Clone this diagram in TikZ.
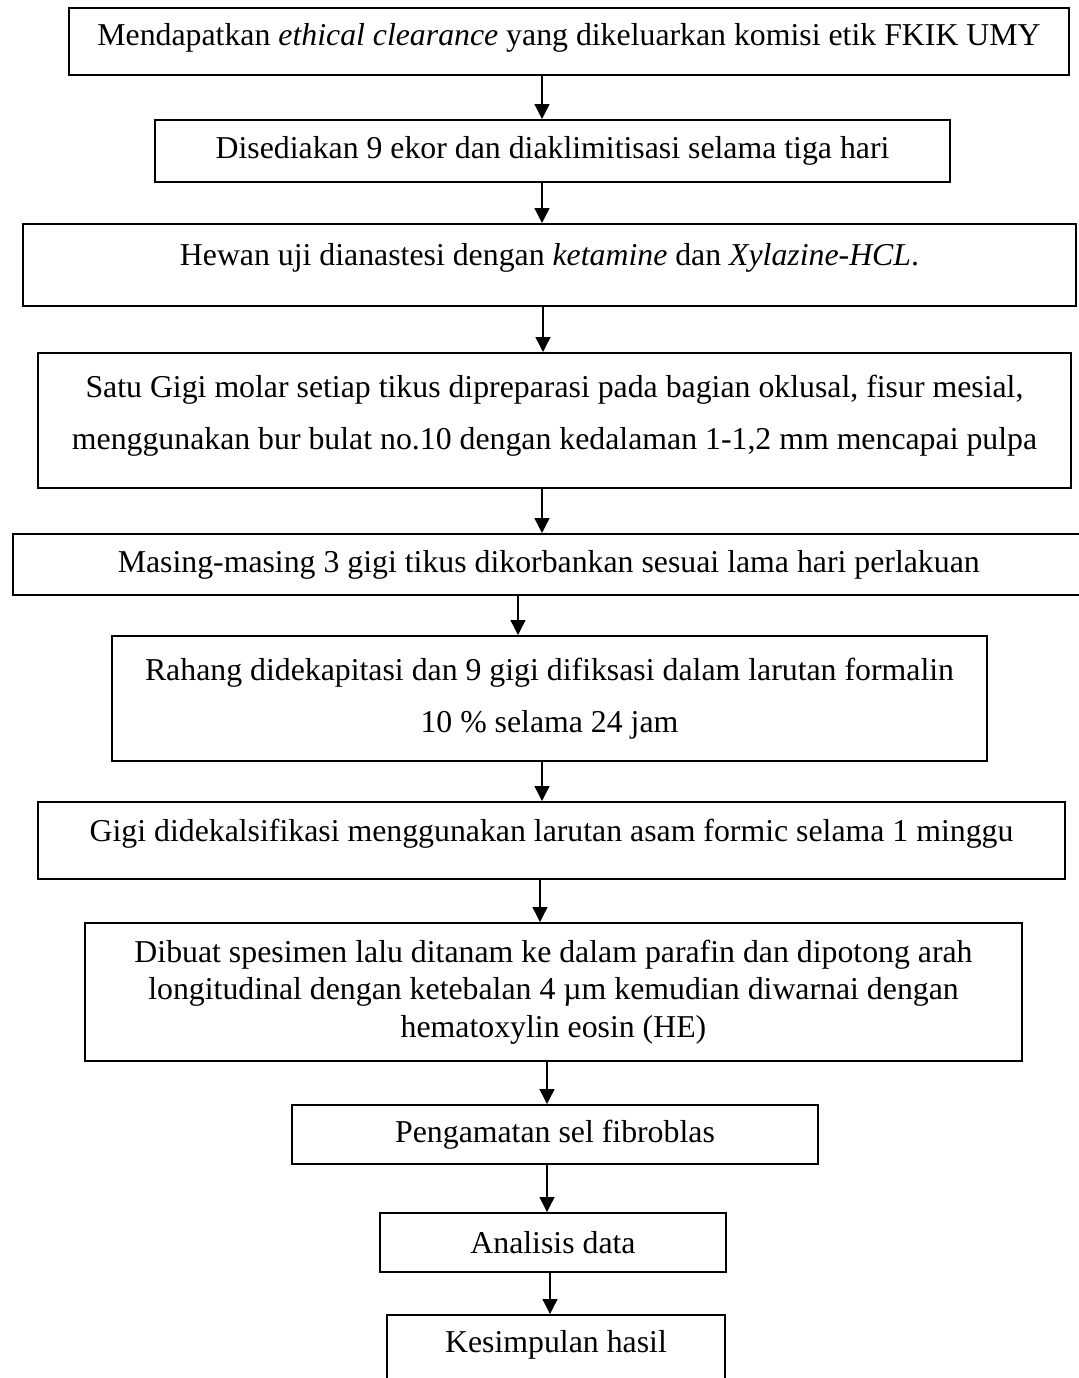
\documentclass[tikz,border=0pt]{standalone}
\usepackage{fontspec}
\setmainfont{Liberation Serif}
\usetikzlibrary{arrows.meta}
\tikzset{
  procbox/.style={draw,line width=1pt,align=center,inner sep=0pt,
    font=\fontsize{15.9}{26}\selectfont},
  flow/.style={-{Triangle[length=7.5pt,width=7.5pt]},line width=0.7pt}
}
\begin{document}
\begin{tikzpicture}[x=0.5pt,y=-0.5pt]
\useasboundingbox (0,0) rectangle (1078,1378);
% steps, top to bottom
\node[procbox,minimum width=500pt,minimum height=33.5pt,text depth=6.9pt] (clear) at (569,41.5)
  {Mendapatkan \textit{ethical clearance} yang dikeluarkan komisi etik FKIK UMY};
\node[procbox,minimum width=397.5pt,minimum height=31pt] (rats) at (552.5,151)
  {Disediakan 9 ekor dan diaklimitisasi selama tiga hari};
\node[procbox,minimum width=526.5pt,minimum height=41pt,text depth=10.4pt] (anest) at (549.5,265)
  {Hewan uji dianastesi dengan \textit{ketamine} dan \textit{Xylazine-HCL}.};
\node[procbox,minimum width=516.5pt,minimum height=67.5pt,text depth=7.9pt] (prep) at (554.5,420.5)
  {Satu Gigi molar setiap tikus dipreparasi pada bagian oklusal, fisur mesial,\\
   menggunakan bur bulat no.10 dengan kedalaman 1-1,2 mm mencapai pulpa};
\node[procbox,minimum width=536.25pt,minimum height=30.5pt] (sacr) at (548.75,564.5)
  {Masing-masing 3 gigi tikus dikorbankan sesuai lama hari perlakuan};
\node[procbox,minimum width=437.5pt,minimum height=62.5pt] (fix) at (549.5,698.5)
  {Rahang didekapitasi dan 9 gigi difiksasi dalam larutan formalin\\
   10 \% selama 24 jam};
\node[procbox,minimum width=513.5pt,minimum height=38.5pt,text depth=10.4pt] (decal) at (551.5,840.5)
  {Gigi didekalsifikasi menggunakan larutan asam formic selama 1 minggu};
\node[procbox,minimum width=468.5pt,minimum height=69pt,font=\fontsize{15.9}{18.75}\selectfont] (spec) at (553.5,992)
  {Dibuat spesimen lalu ditanam ke dalam parafin dan dipotong arah\\
   longitudinal dengan ketebalan 4 µm kemudian diwarnai dengan\\
   hematoxylin eosin (HE)};
\node[procbox,minimum width=263pt,minimum height=29.5pt] (obs) at (555,1134.5)
  {Pengamatan sel fibroblas};
\node[procbox,minimum width=173pt,minimum height=29.5pt] (anal) at (553,1242.5)
  {Analisis data};
\node[procbox,minimum width=169pt,minimum height=42.5pt,text depth=15.9pt] (concl) at (556,1357.5)
  {Kesimpulan hasil};
% arrows
\foreach \from/\to/\ax in {clear/rats/542,rats/anest/542,anest/prep/543,
    prep/sacr/542,sacr/fix/518,fix/decal/542,decal/spec/540,
    spec/obs/547,obs/anal/547,anal/concl/550}
  \draw[flow] (\from.south -| \ax,0) -- (\to.north -| \ax,0);
\end{tikzpicture}
\end{document}
